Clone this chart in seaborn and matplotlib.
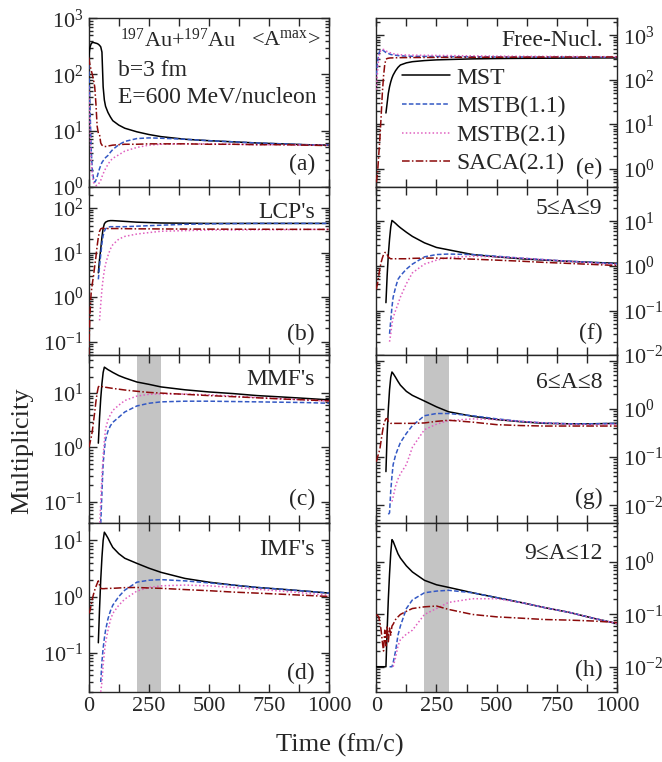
import numpy as np
import matplotlib
matplotlib.use('Agg')
import matplotlib.pyplot as plt
import seaborn as sns
from matplotlib.ticker import LogLocator, MultipleLocator, LogFormatterMathtext, NullFormatter, FuncFormatter

nan = np.nan

# --- time grid (fm/c) ---
T = [0, 5, 10, 15, 20, 25, 30, 35, 40, 45, 50, 55, 60, 65, 70, 80, 90, 100,
     125, 150, 200, 250, 300, 400, 500, 600, 700, 800, 900, 1000]

series_names = ['MST', 'MSTB(1.1)', 'MSTB(2.1)', 'SACA(2.1)']

# --- (a) <A^max> ---
a_mst = [200, 300, 350, 370, 370, 365, 360, 355, 345, 330, 310, 250, 60, 35, 27, 21, 17.5, 15,
         12.5, 11, 9.5, 8.5, 7.8, 7.0, 6.6, 6.3, 6.0, 5.8, 5.6, 5.5]
a_b11 = [150, 30, 5, 2, 1.4, 1.2, 1.3, 1.5, 1.8, 2.1, 2.4, 2.7, 2.9, 3.1, 3.3, 3.6, 4.1, 4.6,
         5.6, 6.4, 7.2, 7.4, 7.3, 7.0, 6.6, 6.3, 6.0, 5.8, 5.6, 5.5]
a_b21 = [60, 12, 3, 1.6, 1.2, 1.1, 1.05, 1.05, 1.1, 1.2, 1.3, 1.5, 1.7, 1.9, 2.1, 2.5, 2.9, 3.2,
         3.7, 4.3, 5.0, 5.5, 5.7, 5.8, 5.8, 5.7, 5.6, 5.6, 5.5, 5.5]
a_saca = [200, 150, 120, 100, 80, 60, 30, 12, 9, 8.5, 6, 5.5, 5.3, 5.2, 5.2, 5.3, 5.4, 5.5,
          5.6, 5.7, 5.7, 5.8, 5.8, 5.8, 5.7, 5.7, 5.6, 5.6, 5.5, 5.4]

# --- (b) LCP's ---
b_mst = [nan, nan, nan, nan, nan, nan, nan, nan, 3.5, 7, 12, 22, 35, 44, 48, 51, 52, 52,
         51, 50, 48, 47, 46, 45.5, 45, 45, 45, 45, 45, 45]
b_b11 = [nan, nan, nan, nan, nan, nan, nan, nan, 2.5, 5, 9, 16, 24, 30, 34, 37, 38, 38,
         38, 38, 39, 40, 41, 43, 44, 44.5, 45, 45, 45, 45]
b_b21 = [nan, nan, nan, nan, nan, nan, nan, nan, nan, 0.3, 0.7, 1.5, 2.6, 4, 5.5, 8.5, 12, 15,
         20, 23, 26, 28, 30, 31, 32, 32, 32.5, 32.5, 33, 33]
b_saca = [0.05, 0.4, 1.2, 2, 3, 5, 8, 14, 22, 30, 34, 35, 35, 34.5, 34.5, 34.5, 34.5, 34.5,
          34.5, 34.3, 34, 34, 33.8, 33.6, 33.5, 33.4, 33.3, 33.2, 33.1, 33]

# --- (c) MMF's ---
c_mst = [nan, nan, nan, nan, nan, nan, nan, nan, 1.2, 3.5, 8, 15, 24, 30, 29, 27, 25.5, 24,
         21, 19, 16, 14.5, 13, 11.5, 10.5, 9.8, 9.0, 8.5, 8, 7.5]
c_b11 = [nan, nan, nan, nan, nan, nan, nan, nan, nan, nan, 0.04, 0.15, 0.5, 0.9, 1.4, 2.0, 2.5, 2.9,
         3.6, 4.5, 5.8, 6.5, 6.9, 7.1, 7.1, 7.0, 6.9, 6.8, 6.7, 6.5]
c_b21 = [nan, nan, nan, nan, nan, nan, nan, nan, nan, 0.03, 0.1, 0.3, 0.7, 1.3, 2.2, 3.2, 4.0, 4.8,
         6.0, 7.3, 8.8, 9.5, 9.7, 9.6, 9.3, 8.8, 8.3, 7.9, 7.5, 7.1]
c_saca = [1.0, 1.2, 1.5, 2, 3, 4.5, 7, 10, 13, 13.5, 13.5, 13.2, 13, 13, 12.8, 12.6, 12.4, 12.2,
          11.8, 11.4, 10.8, 10.3, 10, 9.5, 9, 8.6, 8.2, 7.8, 7.5, 7.2]

# --- (d) IMF's ---
d_mst = [nan, nan, nan, nan, nan, nan, nan, nan, 0.15, 0.6, 2, 5, 10, 14, 13, 11, 9, 7.5,
         5.8, 4.8, 3.9, 3.2, 2.7, 2.1, 1.8, 1.6, 1.45, 1.35, 1.25, 1.15]
d_b11 = [nan, nan, nan, nan, nan, nan, nan, nan, nan, nan, 0.03, 0.07, 0.12, 0.18, 0.25, 0.4, 0.55, 0.7,
         1.0, 1.3, 1.8, 1.95, 2.0, 1.9, 1.75, 1.6, 1.45, 1.35, 1.25, 1.15]
d_b21 = [nan, nan, nan, nan, nan, nan, nan, nan, nan, nan, 0.02, 0.03, 0.06, 0.1, 0.15, 0.25, 0.38, 0.5,
         0.7, 0.9, 1.25, 1.45, 1.55, 1.6, 1.55, 1.45, 1.35, 1.25, 1.15, 1.05]
d_saca = [0.5, 0.55, 0.7, 0.9, 1.1, 1.3, 1.5, 1.7, 1.9, 1.6, 1.4, 1.38, 1.38, 1.38, 1.39, 1.39, 1.4, 1.4,
          1.42, 1.44, 1.45, 1.42, 1.4, 1.33, 1.27, 1.2, 1.15, 1.1, 1.05, 1.0]

# --- (e) Free-Nucl. ---
e_mst = [nan, nan, nan, nan, nan, nan, nan, nan, 18, 30, 50, 70, 90, 110, 128, 160, 190, 215,
         240, 255, 270, 280, 285, 295, 300, 303, 305, 307, 309, 310]
e_b11 = [128, 250, 380, 450, 470, 470, 450, 430, 410, 400, 390, 380, 370, 365, 360, 355, 350, 345,
         340, 337, 335, 333, 331, 328, 326, 325, 324, 323, 322, 320]
e_b21 = [60, 150, 300, 420, 470, 480, 480, 470, 450, 430, 420, 410, 400, 390, 385, 375, 370, 365,
         360, 357, 355, 352, 350, 345, 340, 337, 335, 333, 331, 330]
e_saca = [0.5, 0.8, 2, 5, 15, 50, 120, 220, 290, 300, 305, 308, 310, 310, 311, 312, 313, 314,
          315, 316, 317, 318, 319, 320, 321, 322, 323, 324, 325, 325]

# --- (f) 5<=A<=9 ---
f_mst = [nan, nan, nan, nan, nan, nan, nan, nan, 0.15, 0.6, 1.8, 4, 7.5, 10.5, 10, 9, 8, 7.2,
         5.7, 4.6, 3.3, 2.6, 2.3, 1.8, 1.6, 1.45, 1.35, 1.27, 1.2, 1.15]
f_b11 = [nan, nan, nan, nan, nan, nan, nan, nan, nan, nan, nan, 0.03, 0.06, 0.12, 0.2, 0.33, 0.5, 0.6,
         0.85, 1.1, 1.6, 1.8, 1.85, 1.8, 1.65, 1.5, 1.38, 1.28, 1.2, 1.12]
f_b21 = [nan, nan, nan, nan, nan, nan, nan, nan, nan, nan, nan, 0.02, 0.03, 0.05, 0.07, 0.1, 0.14, 0.2,
         0.4, 0.7, 1.1, 1.35, 1.55, 1.65, 1.6, 1.5, 1.38, 1.27, 1.17, 1.08]
f_saca = [0.3, 0.4, 0.6, 0.9, 1.2, 1.5, 1.8, 2.0, 2.0, 1.8, 1.6, 1.5, 1.45, 1.45, 1.45, 1.45, 1.45, 1.45,
          1.45, 1.48, 1.5, 1.5, 1.48, 1.42, 1.35, 1.28, 1.2, 1.14, 1.08, 1.02]

# --- (g) 6<=A<=8 ---
g_mst = [nan, nan, nan, nan, nan, nan, nan, nan, 0.05, 0.3, 1.0, 2.5, 4.5, 5.8, 5.4, 4.5, 3.7, 3.1,
         2.3, 1.9, 1.45, 1.1, 0.87, 0.7, 0.6, 0.54, 0.5, 0.49, 0.49, 0.5]
g_b11 = [nan, nan, nan, nan, nan, nan, nan, nan, nan, nan, 0.0065, 0.007, 0.02, 0.04, 0.07, 0.11, 0.15, 0.2,
         0.31, 0.45, 0.72, 0.8, 0.8, 0.72, 0.62, 0.55, 0.51, 0.49, 0.49, 0.5]
g_b21 = [nan, nan, nan, nan, nan, nan, nan, nan, nan, nan, nan, nan, nan, 0.012, 0.015, 0.025, 0.035, 0.045,
         0.07, 0.16, 0.37, 0.48, 0.57, 0.62, 0.6, 0.55, 0.51, 0.48, 0.47, 0.48]
g_saca = [0.08, 0.1, 0.12, 0.15, 0.22, 0.32, 0.45, 0.55, 0.62, 0.63, 0.55, 0.52, 0.5, 0.5, 0.5, 0.5, 0.5, 0.5,
          0.5, 0.5, 0.51, 0.55, 0.58, 0.53, 0.47, 0.45, 0.44, 0.44, 0.44, 0.44]

# --- (h) 9<=A<=12 ---
h_mst = [0.01, 0.01, 0.01, 0.01, 0.01, 0.01, 0.01, 0.01, 0.01, 0.05, 0.2, 0.6, 1.5, 2.7, 2.5, 1.9, 1.45, 1.2,
         0.85, 0.65, 0.45, 0.37, 0.33, 0.26, 0.21, 0.17, 0.135, 0.11, 0.085, 0.067]
h_b11 = [nan, nan, nan, nan, nan, nan, nan, nan, nan, nan, nan, 0.01, 0.01, 0.01, 0.012, 0.02, 0.04, 0.06,
         0.13, 0.19, 0.26, 0.28, 0.29, 0.26, 0.21, 0.17, 0.135, 0.11, 0.085, 0.067]
h_b21 = [nan, nan, nan, nan, nan, nan, nan, nan, nan, nan, nan, nan, nan, nan, 0.01, 0.015, 0.025, 0.033,
         0.042, 0.05, 0.1, 0.13, 0.17, 0.2, 0.2, 0.17, 0.135, 0.11, 0.085, 0.067]
h_saca = [0.1, 0.095, 0.09, 0.07, 0.05, 0.03, 0.02, 0.05, 0.025, 0.06, 0.03, 0.055, 0.04, 0.06, 0.065, 0.08, 0.09, 0.1,
          0.115, 0.13, 0.14, 0.145, 0.125, 0.1, 0.09, 0.085, 0.08, 0.078, 0.075, 0.07]

# shaded time window
band_lo, band_hi = 200, 300

# --- style ---
sns.set_theme(style='ticks')
plt.rcParams['font.family'] = ['Liberation Serif', 'DejaVu Serif']
plt.rcParams['mathtext.fontset'] = 'custom'
plt.rcParams['mathtext.rm'] = 'Liberation Serif'
plt.rcParams['mathtext.it'] = 'Liberation Serif:italic'
plt.rcParams['mathtext.default'] = 'regular'
plt.rcParams['axes.unicode_minus'] = False
plt.rcParams['axes.linewidth'] = 1.0

colors = ['black', '#3358c4', '#e060c0', '#8b0a0a']
styles = ['-', (0, (3, 1.5)), (0, (1, 1.5)), (0, (5, 1.5, 1, 1.5))]

fig = plt.figure(figsize=(6.62, 7.62), dpi=100)
gs = fig.add_gridspec(4, 2, left=0.134, right=0.932, top=0.976, bottom=0.092,
                      hspace=0, wspace=0.195)

panels = [
    # key, row, col, data, ylim, title, band
    ('a', 0, 0, [a_mst, a_b11, a_b21, a_saca], (1, 1000), None, False),
    ('b', 1, 0, [b_mst, b_b11, b_b21, b_saca], (0.05, 300), "LCP's", False),
    ('c', 2, 0, [c_mst, c_b11, c_b21, c_saca], (0.04, 50), "MMF's", True),
    ('d', 3, 0, [d_mst, d_b11, d_b21, d_saca], (0.02, 20), "IMF's", True),
    ('e', 0, 1, [e_mst, e_b11, e_b21, e_saca], (0.4, 2400), 'Free-Nucl.', False),
    ('f', 1, 1, [f_mst, f_b11, f_b21, f_saca], (0.01, 60), '5\u2264A\u22649', False),
    ('g', 2, 1, [g_mst, g_b11, g_b21, g_saca], (0.0042, 13), '6\u2264A\u22648', True),
    ('h', 3, 1, [h_mst, h_b11, h_b21, h_saca], (0.0033, 5.5), '9\u2264A\u226412', True),
]

title_y = {'a': 0.87, 'b': 0.846, 'c': 0.856, 'd': 0.846, 'e': 0.87, 'f': 0.87, 'g': 0.84, 'h': 0.82}
label_y = {'a': 0.13, 'b': 0.124, 'c': 0.14, 'd': 0.11, 'e': 0.106, 'f': 0.13, 'g': 0.15, 'h': 0.13}

t_arr = np.array(T, dtype=float)
tick_fs = 16
axes = {}
for key, row, col, data, ylim, title, band in panels:
    ax = fig.add_subplot(gs[row, col])
    axes[key] = ax
    ax.set_yscale('log')
    if band:
        ax.axvspan(band_lo, band_hi, color='#c4c4c4', lw=0, zorder=0)
    for vals, name, c, ls in zip(data, series_names, colors, styles):
        v = np.array(vals, dtype=float)
        m = ~np.isnan(v)
        sns.lineplot(x=t_arr[m], y=v[m], ax=ax, color=c, linestyle=ls, lw=1.1,
                     label=name, legend=False, zorder=3)
    ax.set_xlim(0, 1000)
    ax.set_ylim(*ylim)
    ax.set_xlabel('')
    ax.set_ylabel('')
    ax.xaxis.set_major_locator(MultipleLocator(250))
    ax.xaxis.set_minor_locator(MultipleLocator(125))
    ax.yaxis.set_major_locator(LogLocator(base=10, numticks=20))
    ax.yaxis.set_minor_locator(LogLocator(base=10, subs=np.arange(2, 10), numticks=20))
    ax.yaxis.set_minor_formatter(NullFormatter())
    if key == 'g':
        ax.yaxis.set_major_formatter(FuncFormatter(
            lambda x, p: '' if x > 5 else LogFormatterMathtext()(x, p)))
    ax.tick_params(which='both', direction='in', top=True, bottom=True, left=True, right=True,
                   width=1.0, labelsize=tick_fs, pad=4)
    ax.tick_params(axis='y', which='major', length=6)
    ax.tick_params(axis='y', which='minor', length=3)
    ax.tick_params(axis='x', which='both', length=6)
    if col == 1:
        ax.tick_params(axis='y', labelleft=False, labelright=True)
    if row < 3:
        ax.tick_params(axis='x', labelbottom=False)
    if title:
        ax.text(0.94, title_y[key], title, transform=ax.transAxes, ha='right', va='center', fontsize=17)
    ax.text(0.94, label_y[key], '(%s)' % key, transform=ax.transAxes, ha='right', va='center', fontsize=17)

ax = axes['a']
ax.text(0.13, 0.87, '$^{197}$Au+$^{197}$Au', transform=ax.transAxes, ha='left', va='center', fontsize=16)
ax.text(0.675, 0.87, '<A$^{max}$>', transform=ax.transAxes, ha='left', va='center', fontsize=16)
ax.text(0.12, 0.69, 'b=3 fm', transform=ax.transAxes, ha='left', va='center', fontsize=17)
ax.text(0.12, 0.527, 'E=600 MeV/nucleon', transform=ax.transAxes, ha='left', va='center', fontsize=17)

handles, labels = axes['e'].get_legend_handles_labels()
axes['e'].legend(handles, labels, loc='upper left', bbox_to_anchor=(0.108, 0.71), frameon=False,
                 fontsize=17, handlelength=2.0, handletextpad=0.3, labelspacing=0.3,
                 borderpad=0, borderaxespad=0)

fig.text(0.033, 0.409, 'Multiplicity', rotation=90, ha='center', va='center', fontsize=19)
fig.text(0.514, 0.022, 'Time (fm/c)', ha='center', va='center', fontsize=19)

fig.savefig('out.png', dpi=100)
